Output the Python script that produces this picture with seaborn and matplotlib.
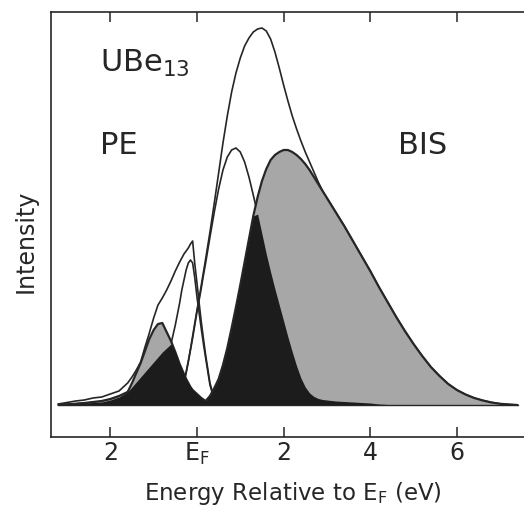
import numpy as np
import pandas as pd
import matplotlib
matplotlib.use("Agg")
import matplotlib.pyplot as plt
import seaborn as sns

# ---- data (energy in eV relative to E_F; PE side negative) ----
energy = [-3.2, -3.0, -2.8, -2.6, -2.4, -2.2, -2.0, -1.8, -1.6,
          -1.5, -1.4, -1.3, -1.2, -1.1, -1.0, -0.9, -0.8, -0.7, -0.6, -0.5,
          -0.4, -0.35, -0.3, -0.25, -0.2, -0.15, -0.1, -0.05, 0.0, 0.05, 0.1, 0.15, 0.2,
          0.3, 0.4, 0.5, 0.6, 0.7, 0.8, 0.9, 1.0, 1.1, 1.2, 1.3, 1.4,
          1.5, 1.6, 1.7, 1.8, 1.9, 2.0, 2.1, 2.2, 2.3, 2.4,
          2.5, 2.6, 2.7, 2.8, 2.9, 3.0,
          3.2, 3.4, 3.6, 3.8, 4.0, 4.2, 4.4, 4.6, 4.8, 5.0,
          5.2, 5.4, 5.6, 5.8, 6.0, 6.2, 6.4, 6.6, 6.8, 7.0, 7.2, 7.4]

N = None
pe_total = ([1, 2.5, 4, 5, 7, 8, 11, 14, 22,
             28, 35, 43, 58, 72, 87, 100, 107, 115, 124, 134,
             143, 147, 151, 154, 157, 161, 164, 141, 122, 102, 83, 66, 50,
             22, 6, 0] + [N] * 47)

u5f_pe = ([1, 1, 1.5, 2, 2.5, 3, 5, 8, 13,
           18, 23, 28, 33, 38, 43, 48, 53, 57, 61, 80,
           102, 115, 125, 135, 142, 145, 142, 127, 108, 92, 76, 61, 47,
           20, 5, 0] + [N] * 47)

bis_total = ([N] * 19 + [2,
             9, 16, 23, 33, 44, 56, 69, 82, 95, 107, 120, 133, 146,
             173, 202, 232, 262, 289, 313, 332, 347, 359, 367, 373, 376,
             377, 374, 366, 353, 337, 320, 304, 289, 276, 264,
             253, 243, 233, 223, 214, 207,
             193, 179, 164, 149, 134, 118, 103, 88, 74, 61,
             49, 38, 29, 21, 15, 10.5, 7, 4.5, 2.5, 1.2, 0.5, 0])

u5f_bis = ([N] * 19 + [0,
           8, 15, 22, 32, 43, 55, 67, 80, 93, 105, 117, 130, 142,
           168, 193, 216, 235, 248, 255, 257, 253, 243, 228, 210, 191,
           171, 151, 133, 116, 100, 84, 68, 53, 39, 27,
           18, 12, 8.5, 6.5, 5.5, 5,
           4, 3.5, 3, 2.5, 2, 1, 0.5, 0] + [N] * 14)

other = [0, 0.5, 1, 2, 3, 4, 6, 9, 13,
         22, 32, 42, 54, 66, 75, 81, 82, 73, 64, 53,
         41, 36, 31, 26, 22, 18, 15, 13, 11, 9, 7, 5.5, 4,
         9, 17, 26, 40, 57, 77, 98, 120, 143, 166, 189, 208,
         224, 236, 245, 250, 253, 255, 255, 253, 250, 246,
         241, 235, 228, 221, 214, 207,
         193, 179, 164, 149, 134, 118, 103, 88, 74, 61,
         49, 38, 29, 21, 15, 10.5, 7, 4.5, 2.5, 1.2, 0.5, 0]

tick_pos = [-2, 0, 2, 4, 6]
tick_labels = ["2", "$E_F$", "2", "4", "6"]

df = pd.DataFrame({"energy": energy, "pe_total": pe_total, "u5f_pe": u5f_pe,
                   "bis_total": bis_total, "u5f_bis": u5f_bis, "other": other})
df = df.astype(float)

# ---- style ----
sns.set_theme(style="white")
plt.rcParams['font.family'] = ['DejaVu Sans']
plt.rcParams['mathtext.default'] = 'regular'

ink = "#262626"
fig = plt.figure(figsize=(5.24, 5.14), dpi=100)
ax = fig.add_axes([51 / 524, 1 - 437 / 514, 1 - 51 / 524, 425 / 514])

x = df["energy"].to_numpy()
u5f = np.maximum(np.nan_to_num(df["u5f_pe"].to_numpy()),
                 np.nan_to_num(df["u5f_bis"].to_numpy()))
oth = df["other"].to_numpy()

# outline curves (white regions)
for col in ["pe_total", "bis_total", "u5f_pe", "u5f_bis"]:
    sns.lineplot(data=df, x="energy", y=col, ax=ax, color=ink, lw=1.2,
                 estimator=None, sort=False, zorder=2)

# grey component
ax.fill_between(x, 0, oth, color="#a7a7a7", lw=0, zorder=3)
sns.lineplot(data=df, x="energy", y="other", ax=ax, color=ink, lw=1.6,
             estimator=None, sort=False, zorder=3.5)
# overlap region (black)
ax.fill_between(x, 0, np.minimum(u5f, oth), color="#1c1c1c", lw=0, zorder=4)
ax.plot([x[0], x[-1]], [0, 0], color=ink, lw=1.0, zorder=4.5)

ax.set_xlim(-3.37, 7.55)
ax.set_ylim(-32, 393)
ax.set_yticks([])
ax.set_xticks(tick_pos)
ax.set_xticklabels(tick_labels)
ax.tick_params(axis='x', direction='in', length=7, width=1.1, top=True,
               bottom=True, labelsize=17, pad=3, colors=ink)

for side in ["left", "bottom", "top"]:
    ax.spines[side].set_color(ink)
    ax.spines[side].set_linewidth(1.2)
ax.spines["right"].set_visible(False)

ax.set_xlabel("Energy Relative to $E_F$ (eV)", fontsize=16.5, color=ink)
ax.xaxis.set_label_coords(293 / 524, 1 - 500 / 514, transform=fig.transFigure)
ax.xaxis.label.set_verticalalignment('baseline')
ax.set_ylabel("Intensity", fontsize=17, color=ink)
ax.yaxis.set_label_coords(26 / 524, 1 - 241 / 514, transform=fig.transFigure)
ax.yaxis.label.set_verticalalignment('center')

ax.text(0.1036, 0.859, "UBe$_{13}$", transform=ax.transAxes, fontsize=22,
        va='baseline', ha='left', color=ink)
ax.text(0.1036, 0.666, "PE", transform=ax.transAxes, fontsize=22,
        va='baseline', ha='left', color=ink)
ax.text(0.734, 0.666, "BIS", transform=ax.transAxes, fontsize=22,
        va='baseline', ha='left', color=ink)

fig.savefig("out.png", dpi=100)
